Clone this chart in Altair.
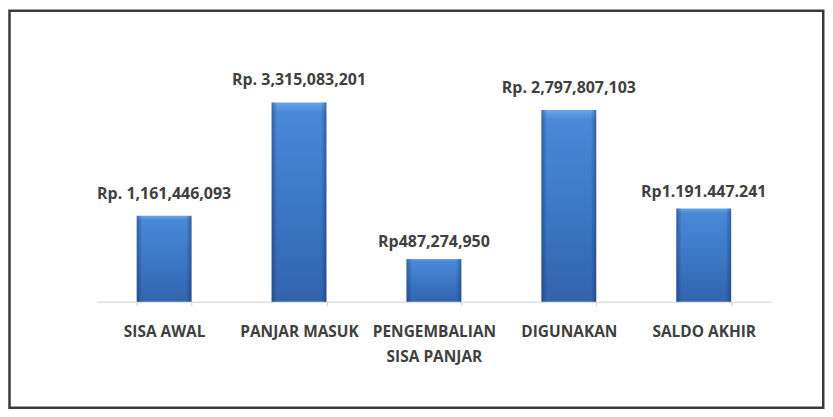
import altair as alt
import pandas as pd

# ---- data ----
categories = ["SISA AWAL", "PANJAR MASUK", "PENGEMBALIAN SISA PANJAR", "DIGUNAKAN", "SALDO AKHIR"]
value_labels = ["Rp. 1,161,446,093", "Rp. 3,315,083,201", "Rp487,274,950",
                "Rp. 2,797,807,103", "Rp1.191.447.241"]
# bar heights as drawn in the picture (billion Rp, scaled so PANJAR MASUK = 3.315)
bar_heights = [1.43, 3.315, 0.71, 3.19, 1.55]

df = pd.DataFrame({"kategori": categories, "tinggi": bar_heights, "label": value_labels})

FONT = "Open Sans"
TXT = "#404040"

x_enc = alt.X(
    "kategori:N", sort=categories, title=None,
    scale=alt.Scale(paddingInner=0.594, paddingOuter=0.297),
    axis=alt.Axis(
        labelAngle=0, domainColor="#d0d0d0", tickColor="#d0d0d0", tickSize=4,
        tickBand="extent", labelFont=FONT, labelFontSize=15.5, labelFontWeight="bold",
        labelColor=TXT, labelPadding=19, labelLineHeight=25,
        labelExpr="datum.value == 'PENGEMBALIAN SISA PANJAR' ? ['PENGEMBALIAN', 'SISA PANJAR'] : datum.value",
    ),
)
y_enc = alt.Y("tinggi:Q", title=None, axis=None,
              scale=alt.Scale(domain=[0, 3.315], nice=False, zero=True))

base = alt.Chart(df)

vert = alt.Gradient(
    gradient="linear", x1=0, x2=0, y1=0, y2=1,
    stops=[alt.GradientStop(color="#6aa5e8", offset=0),
           alt.GradientStop(color="#4a89d8", offset=0.05),
           alt.GradientStop(color="#3d78c6", offset=0.5),
           alt.GradientStop(color="#3264ae", offset=1)],
)
edges = alt.Gradient(
    gradient="linear", x1=0, x2=1, y1=0, y2=0,
    stops=[alt.GradientStop(color="rgba(20,45,95,0.45)", offset=0),
           alt.GradientStop(color="rgba(20,45,95,0)", offset=0.1),
           alt.GradientStop(color="rgba(20,45,95,0)", offset=0.9),
           alt.GradientStop(color="rgba(20,45,95,0.45)", offset=1)],
)

bars = base.mark_bar(fill=vert).encode(x=x_enc, y=y_enc)
bar_edges = base.mark_bar(fill=edges).encode(x=alt.X("kategori:N", sort=categories), y="tinggi:Q")

labels_a = base.transform_filter("indexof(datum.label, 'Rp.') == 0").mark_text(
    font=FONT, fontSize=16, fontWeight="bold", color=TXT, baseline="middle", dy=-22
).encode(x=alt.X("kategori:N", sort=categories), y="tinggi:Q", text="label:N")
labels_b = base.transform_filter("indexof(datum.label, 'Rp.') != 0").mark_text(
    font=FONT, fontSize=16, fontWeight="bold", color=TXT, baseline="middle", dy=-17
).encode(x=alt.X("kategori:N", sort=categories), y="tinggi:Q", text="label:N")

frame = alt.Chart(pd.DataFrame({"k": [0]})).mark_rect(
    fillOpacity=0, stroke="#3a3a3a", strokeWidth=2.5
).encode(x=alt.value(-87.5), x2=alt.value(729.25), y=alt.value(-92), y2=alt.value(306.5))

chart = alt.layer(frame, bars, bar_edges, labels_a, labels_b).properties(
    width=677, height=200, padding=0, background="white"
).configure_view(stroke=None)

chart.save("out.html", embed_options={"renderer": "svg", "actions": False})
